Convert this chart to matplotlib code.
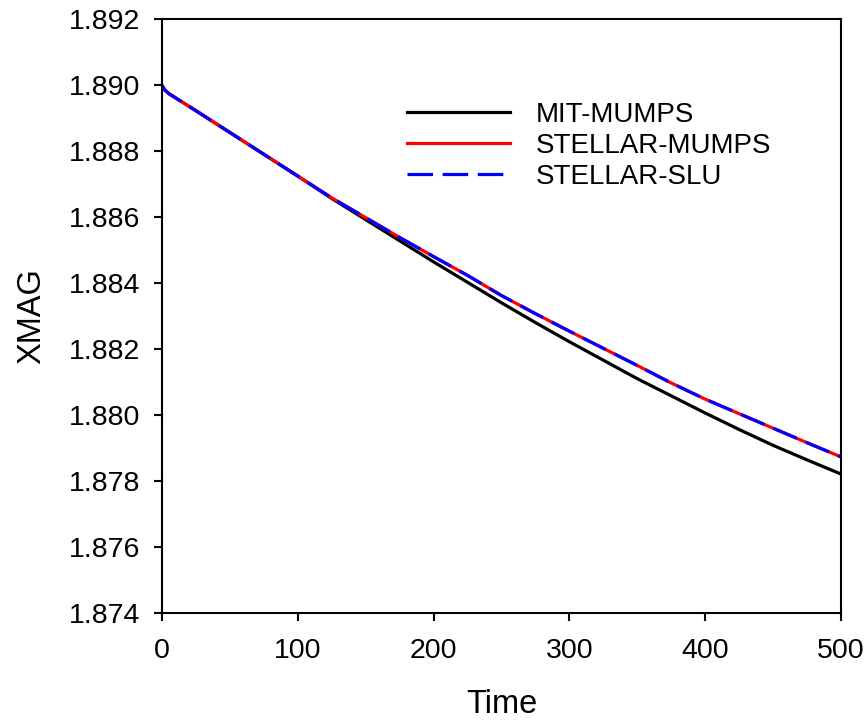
import matplotlib
matplotlib.use('Agg')
from matplotlib import pyplot as plt

plt.rcParams['font.family'] = ['Liberation Sans', 'DejaVu Sans']

# time axis and the three solver results
time = [0, 2, 5, 25, 50, 75, 100, 125, 150, 175, 200, 225, 250,
        275, 300, 325, 350, 375, 400, 425, 450, 475, 500]

xmag_mit_mumps = [1.88999, 1.88985, 1.88974, 1.88922, 1.88856, 1.88790,
                  1.88724, 1.88656, 1.88592, 1.88528, 1.88464, 1.88402,
                  1.88340, 1.88280, 1.88222, 1.88166, 1.88110, 1.88058,
                  1.88006, 1.87956, 1.87908, 1.87864, 1.87821]

xmag_stellar_mumps = [1.88999, 1.88985, 1.88974, 1.88922, 1.88856, 1.88790,
                      1.88724, 1.88658, 1.88598, 1.88538, 1.88480, 1.88423,
                      1.88362, 1.88307, 1.88254, 1.88202, 1.88150, 1.88097,
                      1.88048, 1.88004, 1.87960, 1.87916, 1.87873]

xmag_stellar_slu = list(xmag_stellar_mumps)

x_ticks = [0, 100, 200, 300, 400, 500]
y_ticks = [1.874, 1.876, 1.878, 1.880, 1.882, 1.884, 1.886, 1.888, 1.890, 1.892]

fig = plt.figure(figsize=(8.68, 7.22), dpi=100)
ax = fig.add_axes([162 / 868, 1 - 613 / 722, (841 - 162) / 868, (613 - 19) / 722])

ax.plot(time, xmag_mit_mumps, color='black', lw=2.3, label='MIT-MUMPS')
ax.plot(time, xmag_stellar_mumps, color='red', lw=2.3, label='STELLAR-MUMPS')
ax.plot(time, xmag_stellar_slu, color='blue', lw=2.3, dashes=(8, 3),
        label='STELLAR-SLU')

ax.set_xlim(0, 500)
ax.set_ylim(1.874, 1.892)
ax.set_xticks(x_ticks)
ax.set_yticks(y_ticks)
ax.set_yticklabels([f'{v:.3f}' for v in y_ticks])

for s in ax.spines.values():
    s.set_linewidth(1.5)
ax.tick_params(axis='both', direction='out', length=6, width=1.5,
               labelsize=20.5)
ax.tick_params(axis='y', pad=10)
ax.tick_params(axis='x', pad=12)

ax.set_xlabel('Time', fontsize=23.5, labelpad=18)
ax.set_ylabel('XMAG', fontsize=23.5, labelpad=15)

ax.legend(loc='upper left', bbox_to_anchor=(407 / 868, 1 - 102 / 722),
          bbox_transform=fig.transFigure, frameon=False, fontsize=20,
          handlelength=3.7, handletextpad=0.95, labelspacing=0.18,
          borderpad=0, borderaxespad=0)

fig.savefig('out.png', dpi=100)
